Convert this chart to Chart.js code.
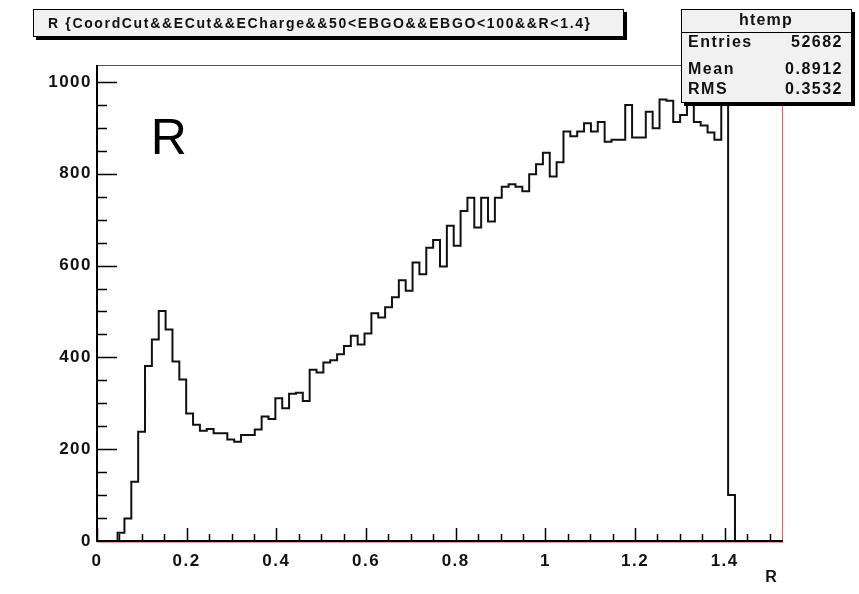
<!DOCTYPE html>
<html>
<head>
<meta charset="utf-8">
<script src="https://cdn.jsdelivr.net/npm/chart.js@4.4.1/dist/chart.umd.min.js"></script>
<style>
  html, body { margin: 0; padding: 0; background: #ffffff; }
  #wrap { width: 859px; height: 594px; }
  canvas { display: block; }
</style>
</head>
<body>
<div id="wrap"><canvas id="c" width="859" height="594"></canvas></div>
<script>
// Histogram "htemp" of R: 100 equal-width bins between binLow and binHigh
const binLow = 0;
const binHigh = 1.53;
const counts = [
  0, 0, 0, 18, 49, 129, 238, 381, 439, 501,
  461, 391, 352, 278, 253, 240, 244, 235, 235, 221,
  216, 231, 231, 243, 271, 266, 311, 289, 321, 323,
  305, 373, 367, 389, 394, 407, 425, 447, 428, 452,
  496, 487, 509, 531, 568, 545, 607, 581, 639, 656,
  598, 687, 643, 719, 748, 683, 748, 696, 748, 772,
  777, 772, 762, 799, 821, 846, 794, 825, 892, 882,
  892, 910, 892, 913, 870, 874, 874, 950, 879, 879,
  935, 899, 962, 959, 913, 928, 972, 913, 905, 890,
  874, 988, 100, 0, 0, 0, 0, 0, 0, 0
];

// Axis ticks and labels
const xTickValues = [0, 0.2, 0.4, 0.6, 0.8, 1, 1.2, 1.4];
const xTickLabels = ['0', '0.2', '0.4', '0.6', '0.8', '1', '1.2', '1.4'];
const yTickValues = [0, 200, 400, 600, 800, 1000];
const yTickLabels = ['0', '200', '400', '600', '800', '1000'];
const yMax = 1037;

// Text of the title and statistics boxes
const titleText = 'R {CoordCut&&ECut&&ECharge&&50<EBGO&&EBGO<100&&R<1.4}';
const histName = 'htemp';
const statNames = ['Entries', 'Mean', 'RMS'];
const statValues = ['52682', '0.8912', '0.3532'];
const xAxisTitle = 'R';
const padLabel = 'R';

// Outline points: one point on the low edge of each bin, plus the closing high edge
const binWidth = (binHigh - binLow) / counts.length;
const outline = counts.map((c, i) => ({ x: binLow + i * binWidth, y: c }));
outline.push({ x: binHigh, y: 0 });

const FONT = '"Liberation Sans", Arial, Helvetica, sans-serif';

function shadowBox(ctx, x, y, w, h, sh) {
  ctx.fillStyle = '#000';
  ctx.fillRect(x + sh, y + sh, w, h);
  ctx.fillStyle = '#f1f1f1';
  ctx.fillRect(x, y, w, h);
  ctx.strokeStyle = '#000';
  ctx.lineWidth = 1;
  ctx.strokeRect(x + 0.5, y + 0.5, w - 1, h - 1);
}

function fitSpacing(ctx, text, width) {
  ctx.letterSpacing = '0px';
  const w = ctx.measureText(text).width;
  return Math.max(0, (width - w) / (text.length - 1));
}

const rootStyle = {
  id: 'rootStyle',
  beforeDraw(chart) {
    // slightly open spacing for axis numbers
    chart.ctx.letterSpacing = '1.5px';
  },
  beforeDatasetsDraw(chart) {
    chart.ctx.letterSpacing = '0px';
  },
  afterDraw(chart) {
    const ctx = chart.ctx;
    const xs = chart.scales.x, ys = chart.scales.y;
    const a = chart.chartArea;
    ctx.save();
    ctx.letterSpacing = '0px';

    // frame: top and right edges
    ctx.lineWidth = 1;
    ctx.strokeStyle = '#555';
    ctx.beginPath();
    ctx.moveTo(a.left, a.top + 0.5);
    ctx.lineTo(a.right, a.top + 0.5);
    ctx.stroke();
    ctx.strokeStyle = '#c07070';
    ctx.beginPath();
    ctx.moveTo(a.right - 0.5, a.top);
    ctx.lineTo(a.right - 0.5, a.bottom);
    ctx.stroke();

    // ticks drawn inward from the axes
    ctx.strokeStyle = '#000';
    ctx.lineWidth = 1.5;
    ctx.beginPath();
    for (let v = 0; v <= 1.5 + 1e-9; v += 0.05) {
      const px = Math.round(xs.getPixelForValue(v)) + 0.5;
      const major = Math.abs(v / 0.2 - Math.round(v / 0.2)) < 1e-6;
      ctx.moveTo(px, a.bottom);
      ctx.lineTo(px, a.bottom - (major ? 13 : 7));
    }
    for (let v = 0; v <= 1000 + 1e-9; v += 50) {
      const py = Math.round(ys.getPixelForValue(v)) + 0.5;
      const major = v % 200 === 0;
      ctx.moveTo(a.left, py);
      ctx.lineTo(a.left + (major ? 20 : 10), py);
    }
    ctx.stroke();

    // axis lines
    ctx.lineWidth = 2;
    ctx.beginPath();
    ctx.moveTo(a.left, a.top);
    ctx.lineTo(a.left, a.bottom);
    ctx.lineTo(a.right, a.bottom);
    ctx.stroke();
    ctx.strokeStyle = '#e0a0a0';
    ctx.lineWidth = 1;
    ctx.beginPath();
    ctx.moveTo(a.left, a.bottom + 1.5);
    ctx.lineTo(a.right, a.bottom + 1.5);
    ctx.stroke();

    // large label in the pad
    ctx.fillStyle = '#000';
    ctx.font = '50px ' + FONT;
    ctx.textAlign = 'center';
    ctx.textBaseline = 'alphabetic';
    ctx.fillText(padLabel, xs.getPixelForValue(0.16), ys.getPixelForValue(843));

    // x axis title
    ctx.font = 'bold 16px ' + FONT;
    ctx.textBaseline = 'middle';
    ctx.fillStyle = '#111';
    ctx.fillText(xAxisTitle, a.right - 12, 578);

    // title box
    shadowBox(ctx, 33, 9, 591, 28, 3);
    ctx.fillStyle = '#111';
    ctx.font = 'bold 14px "Liberation Sans Narrow", ' + FONT;
    const sp = fitSpacing(ctx, titleText, 542);
    ctx.letterSpacing = sp.toFixed(2) + 'px';
    ctx.textAlign = 'left';
    ctx.textBaseline = 'middle';
    ctx.fillText(titleText, 48, 24);
    ctx.letterSpacing = '0px';

    // statistics box
    shadowBox(ctx, 681, 9, 171, 94, 3);
    ctx.strokeStyle = '#000';
    ctx.lineWidth = 1;
    ctx.beginPath();
    ctx.moveTo(681, 32.5);
    ctx.lineTo(852, 32.5);
    ctx.stroke();
    ctx.fillStyle = '#111';
    ctx.font = 'bold 16px ' + FONT;
    ctx.letterSpacing = '1.2px';
    ctx.textAlign = 'center';
    ctx.fillText(histName, 766, 21);
    const rowsY = [43, 70, 90];
    ctx.letterSpacing = '1.5px';
    statNames.forEach((n, i) => {
      ctx.textAlign = 'left';
      ctx.fillText(n, 688, rowsY[i]);
      ctx.textAlign = 'right';
      ctx.fillText(statValues[i], 843, rowsY[i]);
    });
    ctx.restore();
  }
};

new Chart(document.getElementById('c'), {
  type: 'line',
  data: {
    datasets: [{
      data: outline,
      stepped: true,
      borderColor: '#111',
      borderWidth: 2,
      pointRadius: 0,
      fill: false
    }]
  },
  options: {
    responsive: false,
    animation: false,
    devicePixelRatio: 1,
    layout: { padding: { left: 0, top: 65, right: 76, bottom: 0 } },
    plugins: { legend: { display: false }, tooltip: { enabled: false } },
    scales: {
      x: {
        type: 'linear',
        min: binLow,
        max: binHigh,
        afterFit(s) { s.height = 53; },
        afterBuildTicks(s) { s.ticks = xTickValues.map(v => ({ value: v })); },
        ticks: {
          callback: (v, i) => xTickLabels[i],
          font: { family: FONT, size: 17, weight: 'bold' },
          color: '#111',
          padding: 10,
          maxRotation: 0,
          autoSkip: false
        },
        grid: { display: false, drawTicks: false },
        border: { display: false }
      },
      y: {
        type: 'linear',
        min: 0,
        max: yMax,
        afterFit(s) { s.width = 97; },
        afterBuildTicks(s) { s.ticks = yTickValues.map(v => ({ value: v })); },
        ticks: {
          callback: (v, i) => yTickLabels[i],
          font: { family: FONT, size: 17, weight: 'bold' },
          color: '#111',
          padding: 5
        },
        grid: { display: false, drawTicks: false },
        border: { display: false }
      }
    }
  },
  plugins: [rootStyle]
});
</script>
</body>
</html>
